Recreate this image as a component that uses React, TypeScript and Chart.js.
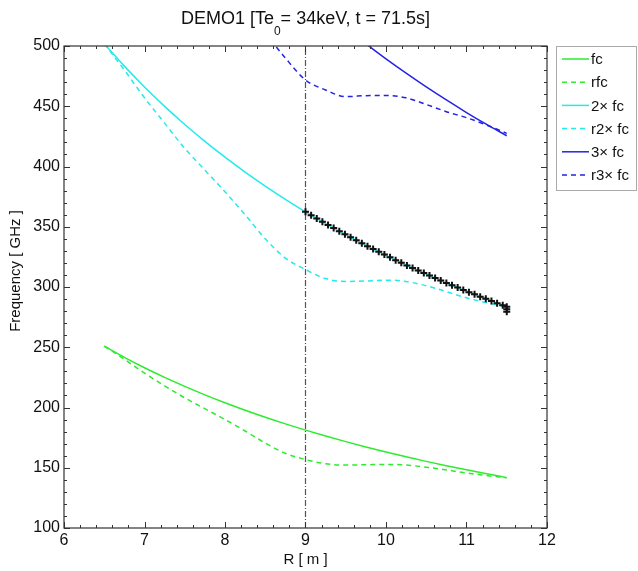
import React, { useEffect, useRef } from "react";
import { Chart, registerables } from "chart.js";

Chart.register(...registerables);

// ---- data ----
const R = [6.5, 6.75, 7.0, 7.25, 7.5, 7.75, 8.0, 8.25, 8.5, 8.75, 9.0, 9.25, 9.5, 9.75, 10.0, 10.25, 10.5, 10.75, 11.0, 11.25, 11.5];
const fc = [250.9, 241.6, 233.0, 225.0, 217.5, 210.5, 203.9, 197.7, 191.9, 186.4, 181.2, 176.3, 171.7, 167.3, 163.1, 159.1, 155.3, 151.7, 148.3, 145.0, 141.8];
const rfc = [251, 240, 228.5, 218, 208, 199, 190, 180.5, 170.5, 162, 156.8, 153.3, 152.2, 152.5, 152.8, 152.3, 150.4, 148.2, 145.6, 143.5, 141.6];
const fc2 = [501.8, 483.3, 466.0, 449.9, 434.9, 420.9, 407.8, 395.4, 383.8, 372.8, 362.4, 352.6, 343.4, 334.6, 326.2, 318.2, 310.7, 303.4, 296.5, 290.0, 283.7];
const rfc2 = [502, 480, 457, 436, 415, 397, 379, 360, 340, 324, 314.5, 307, 304.6, 305, 305.7, 304.6, 301, 296.2, 291, 287, 283.5];
const R3 = [9.75, 10.0, 10.25, 10.5, 10.75, 11.0, 11.25, 11.5];
const fc3 = [501.8, 489.3, 477.4, 466.0, 455.2, 444.8, 434.9, 425.5];
const Rr3 = [8.5, 8.75, 9.0, 9.25, 9.5, 9.75, 10.0, 10.25, 10.5, 10.75, 11.0, 11.25, 11.5];
const rfc3 = [511, 490, 471.8, 463.5, 458, 458.8, 459, 457, 451.5, 445.5, 440.5, 434.4, 427.5];
const markR = [9.0, 9.07, 9.14, 9.21, 9.28, 9.35, 9.42, 9.49, 9.56, 9.63, 9.7, 9.77, 9.84, 9.91, 9.98, 10.05, 10.12, 10.19, 10.26, 10.33, 10.4, 10.47, 10.54, 10.61, 10.68, 10.75, 10.82, 10.89, 10.96, 11.03, 11.1, 11.17, 11.24, 11.31, 11.38, 11.45, 11.5, 11.5, 11.5];
const markF = [362.4, 359.6, 356.9, 354.2, 351.5, 348.9, 346.3, 343.7, 341.2, 338.7, 336.3, 333.9, 331.5, 329.2, 326.9, 324.6, 322.3, 320.1, 317.9, 315.8, 313.7, 311.6, 309.5, 307.4, 305.4, 303.4, 301.5, 299.5, 297.6, 295.7, 293.9, 292.0, 290.2, 288.4, 286.6, 284.9, 283.7, 281.5, 279.5];
const cutR = 9;
const xTicks = [6, 7, 8, 9, 10, 11, 12];
const yTicks = [100, 150, 200, 250, 300, 350, 400, 450, 500];
const xMinorStep = 0.2;
const yMinorStep = 10;
const legendLabels = ["fc", "rfc", "2\u00d7 fc", "r2\u00d7 fc", "3\u00d7 fc", "r3\u00d7 fc"];
const titleMain = "DEMO1 [Te";
const titleSub = "0";
const titleRest = "= 34keV, t = 71.5s]";
const xTitle = "R [ m ]";
const yTitle = "Frequency [ GHz ]";

const GREEN = "rgb(45,235,45)";
const CYAN = "rgb(35,235,235)";
const BLUE = "rgb(35,35,230)";
const FONT = "'Liberation Sans', Arial, sans-serif";

const pts = (xs: number[], ys: number[]) => xs.map((x, i) => ({ x, y: ys[i] }));

const legendItems = [
  { label: legendLabels[0], color: GREEN, dash: [] as number[] },
  { label: legendLabels[1], color: GREEN, dash: [5, 4] },
  { label: legendLabels[2], color: CYAN, dash: [] as number[] },
  { label: legendLabels[3], color: CYAN, dash: [5, 4] },
  { label: legendLabels[4], color: BLUE, dash: [] as number[] },
  { label: legendLabels[5], color: BLUE, dash: [5, 4] },
];

const decor = {
  id: "decor",
  afterDraw(chart: any) {
    const ctx = chart.ctx as CanvasRenderingContext2D;
    const { left, right, top, bottom } = chart.chartArea;
    const xs = chart.scales.x;
    const ys = chart.scales.y;
    ctx.save();
    // frame
    ctx.strokeStyle = "#333";
    ctx.lineWidth = 1.2;
    ctx.setLineDash([]);
    ctx.strokeRect(left, top, right - left, bottom - top);
    // ticks inside
    ctx.lineWidth = 1;
    ctx.beginPath();
    const x0 = xTicks[0], x1 = xTicks[xTicks.length - 1];
    for (let v = x0; v <= x1 + 1e-9; v += xMinorStep) {
      const isMajor = xTicks.some((t) => Math.abs(t - v) < 1e-6);
      const L = isMajor ? 6 : 3;
      const px = Math.round(xs.getPixelForValue(v)) + 0.5;
      ctx.moveTo(px, bottom); ctx.lineTo(px, bottom - L);
      ctx.moveTo(px, top); ctx.lineTo(px, top + L);
    }
    const y0 = yTicks[0], y1 = yTicks[yTicks.length - 1];
    for (let v = y0; v <= y1 + 1e-9; v += yMinorStep) {
      const isMajor = yTicks.some((t) => Math.abs(t - v) < 1e-6);
      const L = isMajor ? 6 : 3;
      const py = Math.round(ys.getPixelForValue(v)) + 0.5;
      ctx.moveTo(left, py); ctx.lineTo(left + L, py);
      ctx.moveTo(right, py); ctx.lineTo(right - L, py);
    }
    ctx.stroke();

    // title with subscript
    ctx.fillStyle = "#111";
    ctx.textBaseline = "alphabetic";
    ctx.textAlign = "left";
    const big = `18px ${FONT}`;
    const small = `12px ${FONT}`;
    ctx.font = big;
    const w1 = ctx.measureText(titleMain).width;
    const w3 = ctx.measureText(titleRest).width;
    ctx.font = small;
    const w2 = ctx.measureText(titleSub).width;
    const total = w1 + w2 + w3;
    let tx = (left + right) / 2 - total / 2;
    ctx.font = big;
    ctx.fillText(titleMain, tx, 24);
    tx += w1;
    ctx.font = small;
    ctx.fillText(titleSub, tx, 35);
    tx += w2;
    ctx.font = big;
    ctx.fillText(titleRest, tx, 24);

    // axis titles
    ctx.font = `15px ${FONT}`;
    ctx.textAlign = "center";
    ctx.textBaseline = "middle";
    ctx.fillText(xTitle, (left + right) / 2, 560);
    ctx.save();
    ctx.translate(16, 271);
    ctx.rotate(-Math.PI / 2);
    ctx.fillText(yTitle, 0, 0);
    ctx.restore();

    // legend
    const lx = 556.5, ly = 46.5, lw = 80, lh = 144;
    ctx.fillStyle = "#fff";
    ctx.fillRect(lx, ly, lw, lh);
    ctx.strokeStyle = "#aaa";
    ctx.lineWidth = 1;
    ctx.strokeRect(lx, ly, lw, lh);
    ctx.font = `15px ${FONT}`;
    ctx.textAlign = "left";
    ctx.textBaseline = "middle";
    legendItems.forEach((it, i) => {
      const yy = 59 + i * 23.2;
      ctx.strokeStyle = it.color;
      ctx.lineWidth = 1.5;
      ctx.setLineDash(it.dash);
      ctx.beginPath();
      ctx.moveTo(562, yy);
      ctx.lineTo(589, yy);
      ctx.stroke();
      ctx.setLineDash([]);
      ctx.fillStyle = "#111";
      ctx.fillText(it.label, 591, yy + 1);
    });
    ctx.restore();
  },
};

export default function App() {
  const ref = useRef<HTMLCanvasElement | null>(null);
  useEffect(() => {
    document.body.style.margin = "0";
    const canvas = ref.current;
    if (!canvas) return;
    const line = (data: any[], color: string, dash: number[]) => ({
      data,
      borderColor: color,
      backgroundColor: color,
      borderWidth: 1.5,
      borderDash: dash,
      pointRadius: 0,
      fill: false,
      cubicInterpolationMode: "monotone" as const,
    });
    const chart = new Chart(canvas, {
      type: "line",
      data: {
        datasets: [
          {
            data: pts(markR, markF),
            showLine: false,
            pointStyle: "cross",
            pointRadius: 3.5,
            pointBorderWidth: 2,
            borderColor: "#111",
            backgroundColor: "#111",
            pointBorderColor: "#111",
          } as any,
          line(pts(R, fc), GREEN, []),
          line(pts(R, rfc), GREEN, [5, 4]),
          line(pts(R, fc2), CYAN, []),
          line(pts(R, rfc2), CYAN, [5, 4]),
          line(pts(R3, fc3), BLUE, []),
          line(pts(Rr3, rfc3), BLUE, [5, 4]),
          {
            data: [
              { x: cutR, y: yTicks[0] },
              { x: cutR, y: yTicks[yTicks.length - 1] },
            ],
            borderColor: "#555",
            borderWidth: 1.2,
            borderDash: [6, 2, 1, 2],
            pointRadius: 0,
            fill: false,
          },
        ],
      },
      options: {
        animation: false,
        responsive: true,
        maintainAspectRatio: false,
        layout: { padding: { left: 0, top: 46, right: 91, bottom: 0 } },
        plugins: { legend: { display: false }, tooltip: { enabled: false }, title: { display: false } },
        scales: {
          x: {
            type: "linear",
            min: xTicks[0],
            max: xTicks[xTicks.length - 1],
            grid: { display: false, drawTicks: false },
            border: { display: false },
            ticks: {
              stepSize: 1,
              padding: 3,
              color: "#111",
              font: { family: FONT, size: 16 },
              maxRotation: 0,
            },
            afterBuildTicks: (s: any) => { s.ticks = xTicks.map((v) => ({ value: v })); },
            afterFit: (s: any) => { s.height = 43; },
          },
          y: {
            type: "linear",
            min: yTicks[0],
            max: yTicks[yTicks.length - 1],
            grid: { display: false, drawTicks: false },
            border: { display: false },
            ticks: {
              stepSize: 50,
              padding: 4,
              color: "#111",
              font: { family: FONT, size: 16 },
            },
            afterBuildTicks: (s: any) => { s.ticks = yTicks.map((v) => ({ value: v })); },
            afterFit: (s: any) => { s.width = 64; },
          },
        },
      },
      plugins: [decor],
    });
    return () => chart.destroy();
  }, []);
  return (
    <div style={{ position: "relative", width: 638, height: 571, background: "#fff" }}>
      <canvas ref={ref} />
    </div>
  );
}
